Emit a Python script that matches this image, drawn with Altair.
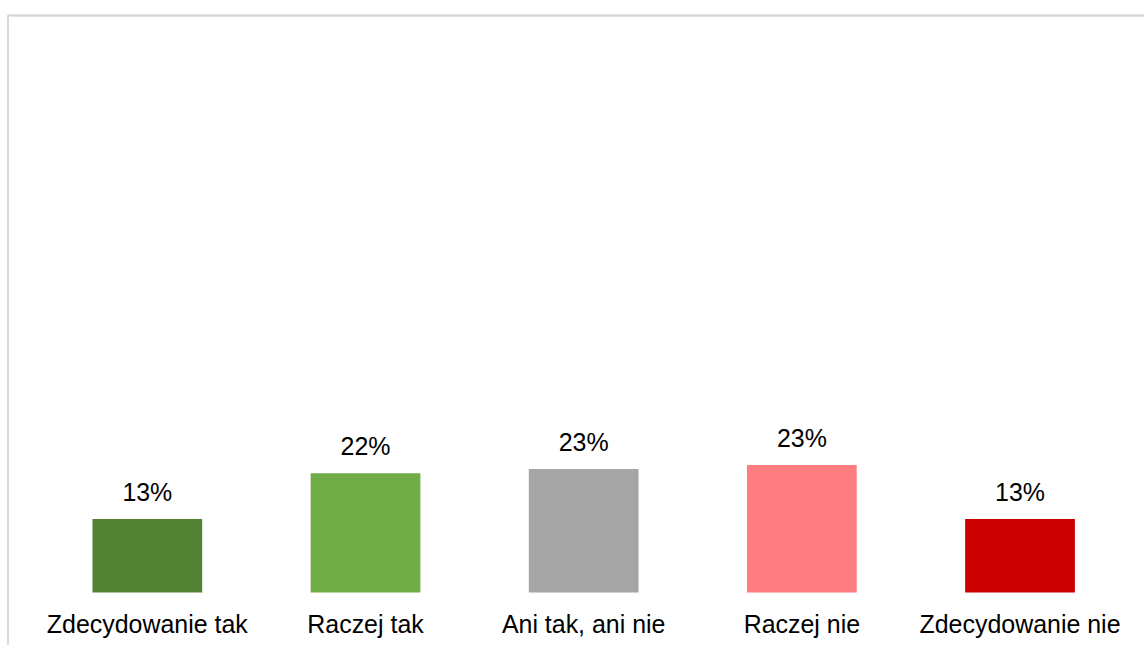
import altair as alt
import pandas as pd

categories = ["Zdecydowanie tak", "Raczej tak", "Ani tak, ani nie", "Raczej nie", "Zdecydowanie nie"]
values = [0.134, 0.217, 0.225, 0.232, 0.134]
colors = ["#548235", "#70ad47", "#a5a5a5", "#ff7c80", "#cc0000"]

df = pd.DataFrame({"cat": categories, "val": values})

FONT = "Arial, Liberation Sans, Helvetica, sans-serif"

x = alt.X("cat:N", sort=categories, title=None,
          scale=alt.Scale(paddingInner=0.497, paddingOuter=0.352, align=0.55, round=False),
          axis=alt.Axis(labelAngle=0, domain=False, ticks=False, labelFontSize=25,
                        labelFont=FONT, labelColor="#000000", labelPadding=40,
                        labelBaseline="alphabetic", labelLimit=400))
y = alt.Y("val:Q", title=None, scale=alt.Scale(domain=[0, 1.05], nice=False),
          axis=None)

bars = alt.Chart(df).mark_bar().encode(
    x=x, y=y,
    color=alt.Color("cat:N", sort=categories,
                    scale=alt.Scale(domain=categories, range=colors), legend=None),
)

labels = alt.Chart(df).mark_text(
    baseline="alphabetic", dy=-18, fontSize=25, font=FONT, color="#000000"
).encode(
    x=alt.X("cat:N", sort=categories),
    y="val:Q",
    text=alt.Text("val:Q", format=".0%"),
)

frame_top = alt.Chart(df).mark_rule(color="#d9d9d9", strokeWidth=1.5).encode(
    x=alt.value(0), x2=alt.value(1138), y=alt.value(0)
)
frame_left = alt.Chart(df).mark_rule(color="#d9d9d9", strokeWidth=1.5).encode(
    x=alt.value(0), y=alt.value(0), y2=alt.value(630)
)

chart = alt.layer(bars, labels, frame_top, frame_left).properties(
    width=1138, height=578,
    padding={"left": 7, "top": 14, "right": 0, "bottom": 0},
    background="#ffffff",
).configure_view(strokeWidth=0)

chart.save("out.html", embed_options={"renderer": "svg", "actions": False})
